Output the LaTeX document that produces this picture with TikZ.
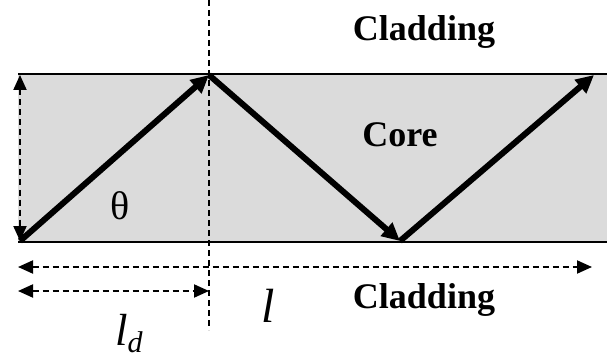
\documentclass[tikz,border=0pt]{standalone}
\usepackage{fontspec}
\setmainfont{Liberation Serif}
\usetikzlibrary{arrows.meta}

\begin{document}
\begin{tikzpicture}[x=1pt, y=-1pt,
    ray/.style={-{Triangle[length=18pt,width=17pt]}, line width=6pt},
    dim/.style={{Triangle[length=15pt,width=13pt]}-{Triangle[length=15pt,width=13pt]},
                line width=2pt, dash pattern=on 6pt off 4pt},
    guide/.style={line width=2pt, dash pattern=on 6pt off 4pt},
    wall/.style={line width=2.2pt},
    lbl/.style={font=\fontsize{36}{40}\selectfont\bfseries},
    sym/.style={inner sep=0pt, anchor=base west, font=\itshape}
  ]
    \useasboundingbox (0,0) rectangle (607,358);
    % core
    \fill[black!14] (18,74) rectangle (607,242);
    \draw[wall] (18,74) -- (607,74);
    \draw[wall] (18,242) -- (607,242);
    % bounce points
    \coordinate (a) at (20,241);
    \coordinate (b) at (209,75);
    \coordinate (c) at (400,241);
    \coordinate (d) at (594,75);
    \draw[ray] (a) -- (b);
    \draw[ray] (b) -- (c);
    \draw[ray] (c) -- (d);
    % dimensions
    \coordinate (top) at (20,75);
    \coordinate (bot) at (20,241);
    \draw[dim] (top) -- (bot);
    \coordinate (gtop) at (209,0);
    \coordinate (gbot) at (209,330);
    \draw[guide] (gtop) -- (gbot);
    \coordinate (l0) at (18,267);
    \coordinate (l1) at (592,267);
    \draw[dim] (l0) -- (l1);
    \coordinate (ld0) at (18,291);
    \coordinate (ld1) at (209,291);
    \draw[dim] (ld0) -- (ld1);
    % labels
    \node[lbl] (cladtop) at (424,32) {Cladding};
    \node[lbl] (core) at (400,135) {Core};
    \node[lbl] (cladbot) at (424,300) {Cladding};
    \node[font=\fontsize{40}{44}\selectfont] (theta) at (120,206) {θ};
    \node[sym, font=\fontsize{48}{52}\selectfont\itshape] (len) at (261,322) {l};
    \node[sym, font=\fontsize{45}{50}\selectfont\itshape] (lend) at (115,345)
      {l\raisebox{-7pt}{\fontsize{30}{32}\selectfont d}};
\end{tikzpicture}
\end{document}
